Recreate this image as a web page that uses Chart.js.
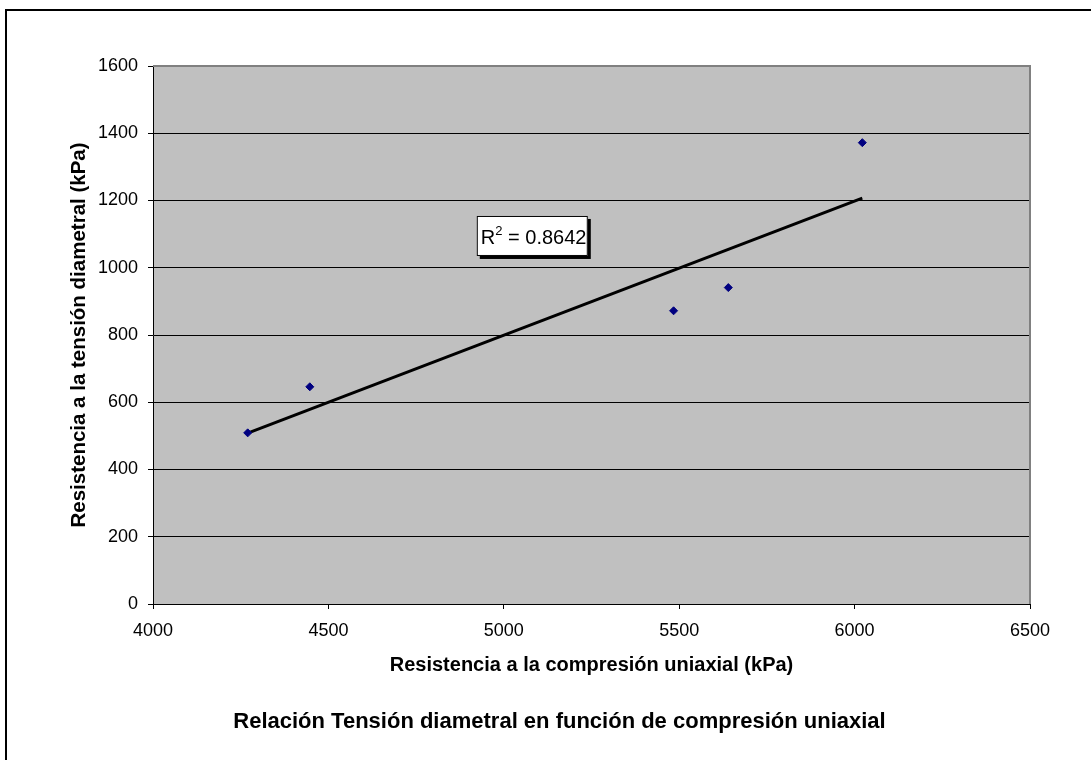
<!DOCTYPE html>
<html>
<head>
<meta charset="utf-8">
<script src="https://cdn.jsdelivr.net/npm/chart.js@4/dist/chart.umd.min.js"></script>
<style>
  html, body { margin: 0; padding: 0; background: #ffffff; }
  #wrap { width: 1091px; height: 760px; position: relative; }
</style>
</head>
<body>
<div id="wrap"><canvas id="c" width="1091" height="760"></canvas></div>
<script>
// ---- data ----
const compresion = [4270, 4447, 5484, 5640, 6022];   // x: Resistencia a la compresión uniaxial (kPa)
const tension    = [509, 646, 872, 941, 1372];       // y: Resistencia a la tensión diametral (kPa)
const xTicks = [4000, 4500, 5000, 5500, 6000, 6500];
const yTicks = [0, 200, 400, 600, 800, 1000, 1200, 1400, 1600];
const r2Label = ['R', '2', ' = 0.8642'];
const xTitle = 'Resistencia a la compresión uniaxial (kPa)';
const yTitle = 'Resistencia a la tensión diametral (kPa)';
const chartTitle = 'Relación Tensión diametral en función de compresión uniaxial';

// linear trend line (least squares) computed from the data
const n = compresion.length;
const mx = compresion.reduce((a, b) => a + b, 0) / n;
const my = tension.reduce((a, b) => a + b, 0) / n;
let sxy = 0, sxx = 0;
for (let i = 0; i < n; i++) { sxy += (compresion[i] - mx) * (tension[i] - my); sxx += (compresion[i] - mx) ** 2; }
const slope = sxy / sxx, icpt = my - slope * mx;
const xMin = Math.min(...compresion), xMax = Math.max(...compresion);
const trend = [{x: xMin, y: icpt + slope * xMin}, {x: xMax, y: icpt + slope * xMax}];

const points = compresion.map((x, i) => ({x, y: tension[i]}));

const FONT = "'Liberation Sans', Arial, sans-serif";

const decor = {
  id: 'decor',
  beforeDraw(chart) {
    const {ctx, chartArea: a} = chart;
    ctx.save();
    ctx.fillStyle = '#ffffff';
    ctx.fillRect(0, 0, chart.width, chart.height);
    // outer frame
    ctx.strokeStyle = '#000000';
    ctx.lineWidth = 2;
    ctx.strokeRect(6, 10, 2000, 2000);
    // plot background
    ctx.fillStyle = '#C0C0C0';
    ctx.fillRect(a.left, a.top, a.right - a.left, a.bottom - a.top);
    ctx.restore();
  },
  beforeDatasetsDraw(chart) {
    const {ctx, chartArea: a} = chart;
    ctx.save();
    ctx.strokeStyle = '#808080';
    ctx.lineWidth = 2;
    ctx.beginPath();
    ctx.moveTo(a.left, a.top);
    ctx.lineTo(a.right, a.top);
    ctx.lineTo(a.right, a.bottom);
    ctx.stroke();
    ctx.restore();
  },
  afterDraw(chart) {
    const {ctx, scales} = chart;
    const xs = scales.x, ys = scales.y;
    ctx.save();
    // R² label box
    const bx = xs.getPixelForValue(4923), by = ys.getPixelForValue(1154);
    const bw = 111, bh = 40;
    ctx.fillStyle = '#000000';
    ctx.fillRect(bx + 3, by + 3, bw, bh);
    ctx.fillStyle = '#ffffff';
    ctx.fillRect(bx, by, bw, bh);
    ctx.strokeStyle = '#000000';
    ctx.lineWidth = 1;
    ctx.strokeRect(bx + 0.5, by + 0.5, bw - 1, bh - 1);
    ctx.fillStyle = '#000000';
    ctx.textBaseline = 'alphabetic';
    ctx.textAlign = 'left';
    const base = by + 28;
    let tx = bx + 4;
    ctx.font = '20px ' + FONT;
    ctx.fillText(r2Label[0], tx, base);
    tx += ctx.measureText(r2Label[0]).width;
    ctx.font = '13px ' + FONT;
    ctx.fillText(r2Label[1], tx, base - 9);
    tx += ctx.measureText(r2Label[1]).width;
    ctx.font = '20px ' + FONT;
    ctx.fillText(r2Label[2], tx, base);
    // chart title
    ctx.font = 'bold 22px ' + FONT;
    ctx.textAlign = 'center';
    ctx.textBaseline = 'middle';
    ctx.fillText(chartTitle, 559.5, 722);
    ctx.restore();
  }
};

new Chart(document.getElementById('c'), {
  type: 'scatter',
  data: {
    datasets: [
      {
        label: 'Datos',
        data: points,
        pointStyle: 'rectRot',
        pointRadius: 4,
        pointHoverRadius: 4,
        backgroundColor: '#000080',
        borderColor: '#000080',
        borderWidth: 1,
        order: 1
      },
      {
        label: 'Lineal',
        type: 'line',
        data: trend,
        showLine: true,
        pointRadius: 0,
        borderColor: '#000000',
        borderWidth: 3,
        fill: false,
        order: 2
      }
    ]
  },
  options: {
    responsive: false,
    animation: false,
    devicePixelRatio: 1,
    layout: { padding: { top: 66, right: 61, bottom: 0, left: 0 } },
    plugins: {
      legend: { display: false },
      tooltip: { enabled: false },
      title: { display: false }
    },
    scales: {
      x: {
        type: 'linear',
        min: 4000, max: 6500,
        afterBuildTicks(s) { s.ticks = xTicks.map(v => ({value: v})); },
        afterFit(s) { s.height = 156; },
        ticks: { color: '#000', font: { family: FONT, size: 18 }, padding: 11, maxRotation: 0,
                 callback: v => String(v) },
        grid: { drawOnChartArea: false, drawTicks: true, tickLength: 5, tickColor: '#000', lineWidth: 1 },
        border: { display: true, color: '#000', width: 1 },
        title: { display: true, text: xTitle, color: '#000', font: { family: FONT, size: 20, weight: 'bold' }, padding: { top: 0, bottom: 83 } }
      },
      y: {
        type: 'linear',
        min: 0, max: 1600,
        afterBuildTicks(s) { s.ticks = yTicks.map(v => ({value: v})); },
        afterFit(s) { s.width = 153; },
        ticks: { color: '#000', font: { family: FONT, size: 18 }, padding: 10,
                 callback: v => String(v) },
        grid: {
          color: c => (c.tick && c.tick.value === 1600) ? '#808080' : '#000000',
          lineWidth: 1, drawTicks: true, tickLength: 5, tickColor: '#000'
        },
        border: { display: true, color: '#000', width: 1 },
        title: { display: true, text: yTitle, color: '#000', font: { family: FONT, size: 20.5, weight: 'bold' }, padding: { top: 67, bottom: 0 } }
      }
    }
  },
  plugins: [decor]
});
</script>
</body>
</html>
